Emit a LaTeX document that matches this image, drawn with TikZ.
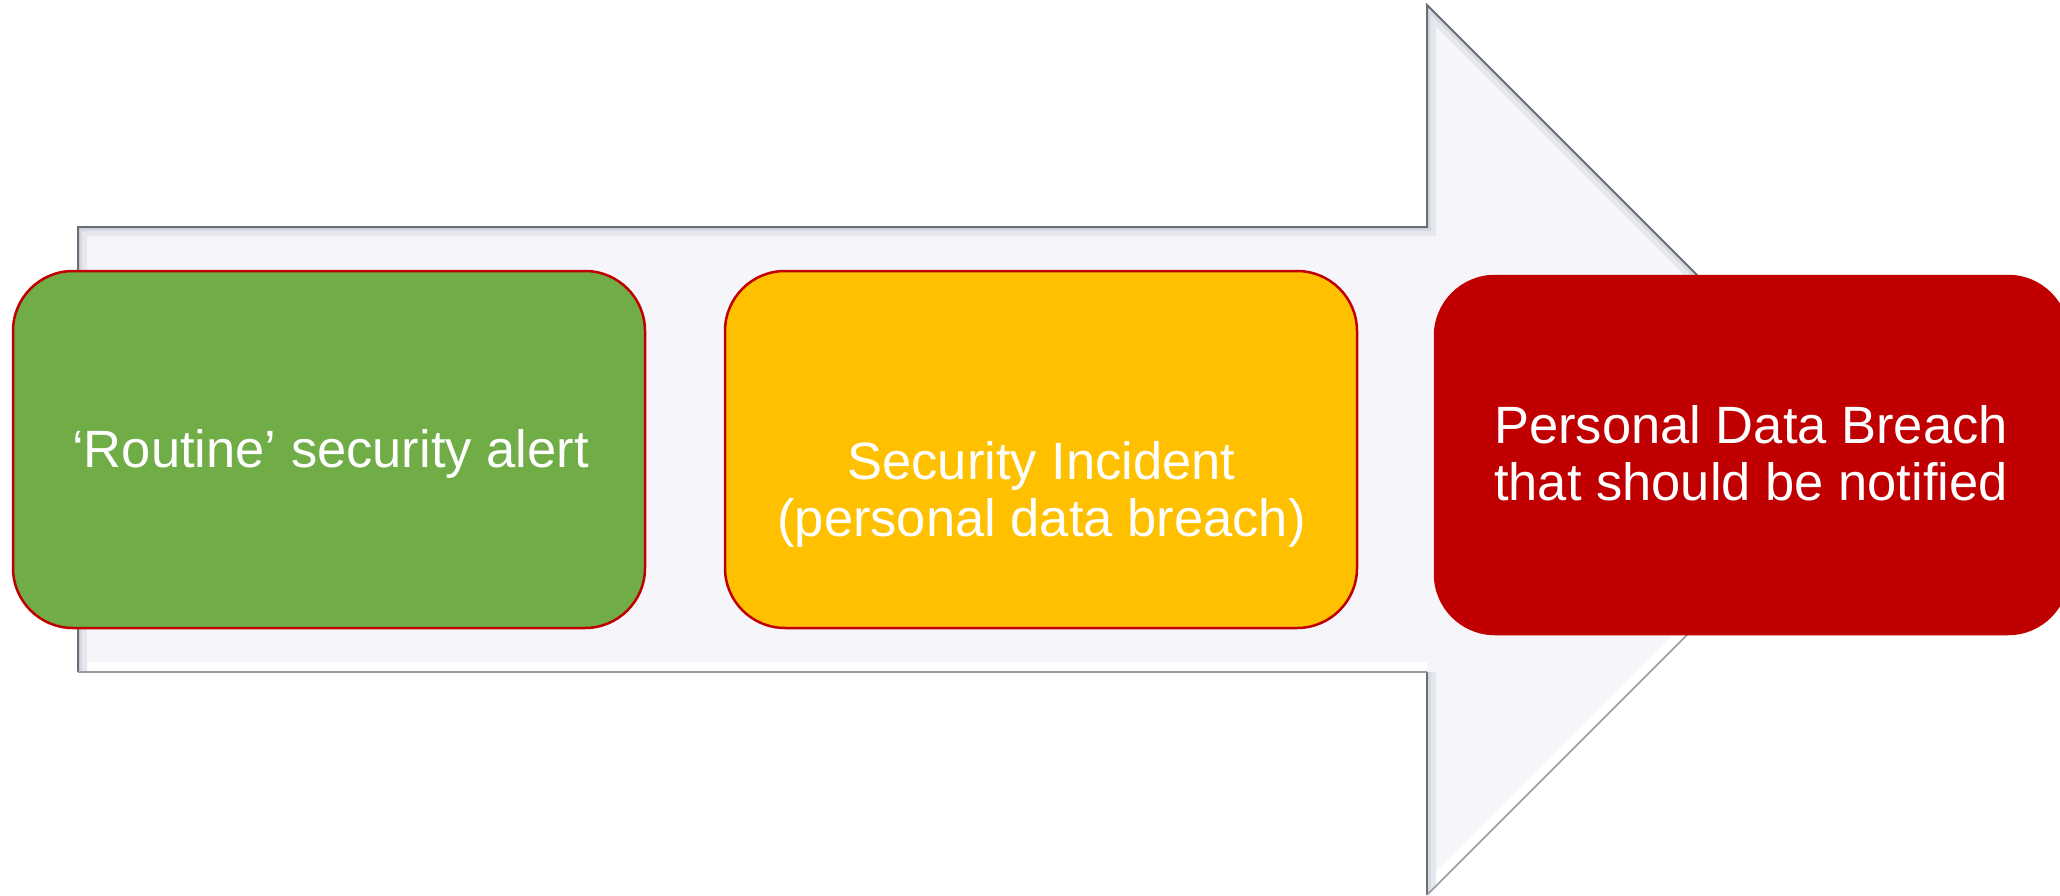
\documentclass[tikz,border=0pt]{standalone}
\usepackage{fontspec}
\setmainfont{Liberation Sans}

\definecolor{stepgreen}{HTML}{70AD47}
\definecolor{stepamber}{HTML}{FFC000}
\definecolor{stepred}{HTML}{C00000}
\definecolor{arrowfill}{RGB}{246,246,250}
\definecolor{arrowedge}{RGB}{105,109,118}
\definecolor{arrowedgelight}{RGB}{150,154,162}
\definecolor{bevelshade}{RGB}{230,232,238}
\definecolor{bevelshadedeep}{RGB}{214,217,225}

\begin{document}
\begin{tikzpicture}[x=1pt,y=-1pt,
  stage/.style={rectangle, rounded corners=60pt, inner sep=0pt,
    line width=2.5pt, draw=stepred,
    minimum width=632pt, minimum height=357pt},
  stagetext/.style={text=white, align=center, inner sep=0pt,
    font=\fontsize{52.5}{57}\selectfont}]

\clip (0,0) rectangle (2060,896);
\fill[white] (0,0) rectangle (2060,896);

% outline points of the big block arrow
\coordinate (a1) at (78,227);
\coordinate (a2) at (1427,227);
\coordinate (a3) at (1427,5);
\coordinate (a4) at (1872,450);
\coordinate (a5) at (1427,895);
\coordinate (a6) at (1427,672);
\coordinate (a7) at (78,672);

\fill[arrowfill] (a1)--(a2)--(a3)--(a4)--(a5)--(a6)--(a7)--cycle;

% bevel bands along the inner rim
\begin{scope}
  \clip (a1)--(a2)--(a3)--(a4)--(a5)--(a6)--(a7)--cycle;
  \draw[line width=20pt, white] (a4)--(a5) (a6)--(a7);
  \draw[line width=18pt, bevelshade, line join=miter]
    (a6)--(a5) (a7)--(a1)--(a2)--(a3)--(a4);
  \draw[line width=8pt, bevelshadedeep, line join=miter]
    (a6)--(a5) (a7)--(a1)--(a2)--(a3)--(a4);
\end{scope}

% rim lines: shaded edges darker, lit edges lighter
\draw[line width=2pt, arrowedge, line join=miter]
  (a7)--(a1)--(a2)--(a3)--(a4);
\draw[line width=2pt, arrowedge] (a6)--(a5);
\draw[line width=1.6pt, arrowedgelight, line join=miter]
  (a4)--(a5) (a6)--(a7);

% the three stages
\node[stage, fill=stepgreen] (alert) at (329,449.5) {};
\node[stage, fill=stepamber] (incident) at (1041,449.5) {};
\node[stage, fill=stepred, minimum width=633pt, minimum height=358pt]
  (breach) at (1751.5,455) {};

\node[stagetext, anchor=base] (alerttext) at (330.5,467)
  {‘Routine’ security alert};
\node[stagetext] (incidenttext) at (1041.5,494)
  {Security Incident\\(personal data breach)};
\node[stagetext] (breachtext) at (1751,453)
  {Personal Data Breach\\that should be notified};
\end{tikzpicture}
\end{document}
